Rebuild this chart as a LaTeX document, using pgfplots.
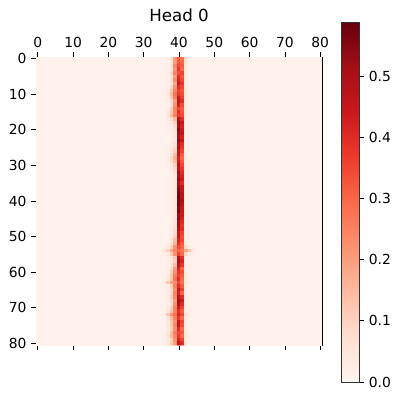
\documentclass[border=0pt]{standalone}
\usepackage{fontspec}
\setmainfont{DejaVu Sans}
\usepackage{pgfplots}
\pgfplotsset{compat=1.18}

\pgfplotsset{
  colormap={reds}{rgb255=(255,245,240) rgb255=(254,224,210) rgb255=(252,187,161)
    rgb255=(252,146,114) rgb255=(251,106,74) rgb255=(239,59,44)
    rgb255=(203,24,29) rgb255=(165,15,21) rgb255=(103,0,13)},
}

\begin{document}
\begin{tikzpicture}
\useasboundingbox (0,0) rectangle (299.25pt,299.25pt);
\begin{axis}[
  at={(27pt,40.5pt)}, anchor=south west,
  scale only axis, width=214.5pt, height=216pt,
  colormap name=reds,
  point meta min=0, point meta max=0.588,
  xmin=-0.5, xmax=80.5, ymin=-0.5, ymax=80.5,
  y dir=reverse,
  xtick={0,10,...,80}, ytick={0,10,...,80},
  xtick pos=both, xticklabel pos=upper,
  ytick pos=left,
  tick align=outside, major tick length=3.6pt,
  every tick/.style={black, line width=0.6pt},
  axis line style={line width=0.6pt},
  tick label style={font=\fontsize{10.4}{12}\selectfont},
  /pgf/number format/assume math mode=true,
  title={Head 0},
  title style={font=\fontsize{12.5}{14}\selectfont,
    at={(0.5,1)}, anchor=south, yshift=17pt},
  colorbar,
  colorbar style={
    at={(parent axis.south east)}, anchor=south west,
    xshift=6pt, yshift=-27.75pt,
    width=13.5pt, height=269.5pt,
    ytick={0,0.1,...,0.5},
    yticklabel pos=right, ytick pos=right,
    tick align=outside, major tick length=3.6pt,
    every tick/.style={black, line width=0.6pt},
    axis line style={line width=0.6pt, black!80},
    yticklabel style={font=\fontsize{10.4}{12}\selectfont,
      /pgf/number format/fixed, /pgf/number format/fixed zerofill,
      /pgf/number format/precision=1},
    /pgf/number format/assume math mode=true,
  },
]
% background (all near-zero cells)
\addplot[matrix plot*, mesh/cols=2, mesh/rows=2, point meta=explicit]
  coordinates {(0,0) [0.01] (80,0) [0.01] (0,80) [0.01] (80,80) [0.01]};
% attention strip, columns 36..44
\addplot[matrix plot*, mesh/cols=9, mesh/rows=81, point meta=explicit] coordinates {
(36,0)[.01] (37,0)[.02] (38,0)[.06] (39,0)[.22] (40,0)[.30] (41,0)[.28] (42,0)[.08] (43,0)[.02] (44,0)[.01]
(36,1)[.01] (37,1)[.02] (38,1)[.05] (39,1)[.20] (40,1)[.33] (41,1)[.30] (42,1)[.06] (43,1)[.02] (44,1)[.01]
(36,2)[.01] (37,2)[.02] (38,2)[.06] (39,2)[.24] (40,2)[.35] (41,2)[.32] (42,2)[.05] (43,2)[.01] (44,2)[.01]
(36,3)[.01] (37,3)[.02] (38,3)[.05] (39,3)[.22] (40,3)[.38] (41,3)[.30] (42,3)[.05] (43,3)[.01] (44,3)[.01]
(36,4)[.01] (37,4)[.03] (38,4)[.07] (39,4)[.25] (40,4)[.34] (41,4)[.36] (42,4)[.04] (43,4)[.01] (44,4)[.01]
(36,5)[.01] (37,5)[.02] (38,5)[.05] (39,5)[.20] (40,5)[.40] (41,5)[.33] (42,5)[.04] (43,5)[.01] (44,5)[.01]
(36,6)[.01] (37,6)[.02] (38,6)[.06] (39,6)[.23] (40,6)[.42] (41,6)[.35] (42,6)[.04] (43,6)[.01] (44,6)[.01]
(36,7)[.01] (37,7)[.02] (38,7)[.05] (39,7)[.18] (40,7)[.45] (41,7)[.38] (42,7)[.03] (43,7)[.01] (44,7)[.01]
(36,8)[.01] (37,8)[.03] (38,8)[.08] (39,8)[.22] (40,8)[.40] (41,8)[.35] (42,8)[.04] (43,8)[.01] (44,8)[.01]
(36,9)[.01] (37,9)[.04] (38,9)[.12] (39,9)[.25] (40,9)[.36] (41,9)[.33] (42,9)[.05] (43,9)[.01] (44,9)[.01]
(36,10)[.01] (37,10)[.05] (38,10)[.14] (39,10)[.28] (40,10)[.38] (41,10)[.34] (42,10)[.04] (43,10)[.01] (44,10)[.01]
(36,11)[.01] (37,11)[.04] (38,11)[.12] (39,11)[.26] (40,11)[.44] (41,11)[.36] (42,11)[.04] (43,11)[.01] (44,11)[.01]
(36,12)[.01] (37,12)[.03] (38,12)[.08] (39,12)[.20] (40,12)[.46] (41,12)[.40] (42,12)[.03] (43,12)[.01] (44,12)[.01]
(36,13)[.01] (37,13)[.02] (38,13)[.06] (39,13)[.22] (40,13)[.42] (41,13)[.34] (42,13)[.03] (43,13)[.01] (44,13)[.01]
(36,14)[.01] (37,14)[.03] (38,14)[.10] (39,14)[.25] (40,14)[.35] (41,14)[.32] (42,14)[.04] (43,14)[.01] (44,14)[.01]
(36,15)[.01] (37,15)[.04] (38,15)[.12] (39,15)[.24] (40,15)[.40] (41,15)[.33] (42,15)[.04] (43,15)[.01] (44,15)[.01]
(36,16)[.01] (37,16)[.05] (38,16)[.15] (39,16)[.25] (40,16)[.38] (41,16)[.35] (42,16)[.03] (43,16)[.01] (44,16)[.01]
(36,17)[.01] (37,17)[.03] (38,17)[.08] (39,17)[.15] (40,17)[.48] (41,17)[.40] (42,17)[.02] (43,17)[.01] (44,17)[.01]
(36,18)[.01] (37,18)[.02] (38,18)[.04] (39,18)[.10] (40,18)[.52] (41,18)[.45] (42,18)[.02] (43,18)[.01] (44,18)[.01]
(36,19)[.01] (37,19)[.02] (38,19)[.03] (39,19)[.08] (40,19)[.50] (41,19)[.42] (42,19)[.02] (43,19)[.01] (44,19)[.01]
(36,20)[.01] (37,20)[.02] (38,20)[.03] (39,20)[.06] (40,20)[.54] (41,20)[.44] (42,20)[.02] (43,20)[.01] (44,20)[.01]
(36,21)[.01] (37,21)[.01] (38,21)[.02] (39,21)[.05] (40,21)[.52] (41,21)[.46] (42,21)[.02] (43,21)[.01] (44,21)[.01]
(36,22)[.01] (37,22)[.01] (38,22)[.02] (39,22)[.05] (40,22)[.50] (41,22)[.42] (42,22)[.02] (43,22)[.01] (44,22)[.01]
(36,23)[.01] (37,23)[.01] (38,23)[.02] (39,23)[.04] (40,23)[.53] (41,23)[.45] (42,23)[.02] (43,23)[.01] (44,23)[.01]
(36,24)[.01] (37,24)[.01] (38,24)[.03] (39,24)[.06] (40,24)[.48] (41,24)[.40] (42,24)[.02] (43,24)[.01] (44,24)[.01]
(36,25)[.01] (37,25)[.02] (38,25)[.04] (39,25)[.08] (40,25)[.50] (41,25)[.38] (42,25)[.02] (43,25)[.01] (44,25)[.01]
(36,26)[.01] (37,26)[.02] (38,26)[.05] (39,26)[.10] (40,26)[.46] (41,26)[.36] (42,26)[.03] (43,26)[.01] (44,26)[.01]
(36,27)[.01] (37,27)[.02] (38,27)[.06] (39,27)[.14] (40,27)[.45] (41,27)[.32] (42,27)[.03] (43,27)[.01] (44,27)[.01]
(36,28)[.01] (37,28)[.03] (38,28)[.08] (39,28)[.16] (40,28)[.42] (41,28)[.30] (42,28)[.04] (43,28)[.01] (44,28)[.01]
(36,29)[.01] (37,29)[.02] (38,29)[.07] (39,29)[.14] (40,29)[.44] (41,29)[.32] (42,29)[.03] (43,29)[.01] (44,29)[.01]
(36,30)[.01] (37,30)[.02] (38,30)[.05] (39,30)[.10] (40,30)[.48] (41,30)[.35] (42,30)[.03] (43,30)[.01] (44,30)[.01]
(36,31)[.01] (37,31)[.02] (38,31)[.04] (39,31)[.08] (40,31)[.46] (41,31)[.38] (42,31)[.02] (43,31)[.01] (44,31)[.01]
(36,32)[.01] (37,32)[.01] (38,32)[.03] (39,32)[.06] (40,32)[.52] (41,32)[.40] (42,32)[.02] (43,32)[.01] (44,32)[.01]
(36,33)[.01] (37,33)[.01] (38,33)[.02] (39,33)[.05] (40,33)[.50] (41,33)[.42] (42,33)[.02] (43,33)[.01] (44,33)[.01]
(36,34)[.01] (37,34)[.01] (38,34)[.02] (39,34)[.04] (40,34)[.53] (41,34)[.44] (42,34)[.02] (43,34)[.01] (44,34)[.01]
(36,35)[.01] (37,35)[.01] (38,35)[.02] (39,35)[.04] (40,35)[.50] (41,35)[.40] (42,35)[.02] (43,35)[.01] (44,35)[.01]
(36,36)[.01] (37,36)[.01] (38,36)[.02] (39,36)[.05] (40,36)[.52] (41,36)[.45] (42,36)[.02] (43,36)[.01] (44,36)[.01]
(36,37)[.01] (37,37)[.01] (38,37)[.02] (39,37)[.04] (40,37)[.55] (41,37)[.46] (42,37)[.02] (43,37)[.01] (44,37)[.01]
(36,38)[.01] (37,38)[.01] (38,38)[.02] (39,38)[.04] (40,38)[.56] (41,38)[.48] (42,38)[.02] (43,38)[.01] (44,38)[.01]
(36,39)[.01] (37,39)[.01] (38,39)[.02] (39,39)[.04] (40,39)[.58] (41,39)[.47] (42,39)[.02] (43,39)[.01] (44,39)[.01]
(36,40)[.01] (37,40)[.01] (38,40)[.02] (39,40)[.04] (40,40)[.56] (41,40)[.50] (42,40)[.02] (43,40)[.01] (44,40)[.01]
(36,41)[.01] (37,41)[.01] (38,41)[.02] (39,41)[.04] (40,41)[.57] (41,41)[.48] (42,41)[.02] (43,41)[.01] (44,41)[.01]
(36,42)[.01] (37,42)[.01] (38,42)[.02] (39,42)[.04] (40,42)[.55] (41,42)[.46] (42,42)[.02] (43,42)[.01] (44,42)[.01]
(36,43)[.01] (37,43)[.01] (38,43)[.02] (39,43)[.04] (40,43)[.56] (41,43)[.45] (42,43)[.02] (43,43)[.01] (44,43)[.01]
(36,44)[.01] (37,44)[.01] (38,44)[.02] (39,44)[.05] (40,44)[.52] (41,44)[.44] (42,44)[.02] (43,44)[.01] (44,44)[.01]
(36,45)[.01] (37,45)[.01] (38,45)[.02] (39,45)[.05] (40,45)[.54] (41,45)[.42] (42,45)[.02] (43,45)[.01] (44,45)[.01]
(36,46)[.01] (37,46)[.01] (38,46)[.02] (39,46)[.05] (40,46)[.50] (41,46)[.40] (42,46)[.02] (43,46)[.01] (44,46)[.01]
(36,47)[.01] (37,47)[.01] (38,47)[.02] (39,47)[.06] (40,47)[.52] (41,47)[.38] (42,47)[.02] (43,47)[.01] (44,47)[.01]
(36,48)[.01] (37,48)[.01] (38,48)[.03] (39,48)[.07] (40,48)[.48] (41,48)[.40] (42,48)[.02] (43,48)[.01] (44,48)[.01]
(36,49)[.01] (37,49)[.01] (38,49)[.03] (39,49)[.08] (40,49)[.45] (41,49)[.36] (42,49)[.02] (43,49)[.01] (44,49)[.01]
(36,50)[.01] (37,50)[.01] (38,50)[.03] (39,50)[.10] (40,50)[.46] (41,50)[.34] (42,50)[.02] (43,50)[.01] (44,50)[.01]
(36,51)[.01] (37,51)[.02] (38,51)[.05] (39,51)[.14] (40,51)[.42] (41,51)[.35] (42,51)[.03] (43,51)[.01] (44,51)[.01]
(36,52)[.01] (37,52)[.02] (38,52)[.06] (39,52)[.16] (40,52)[.40] (41,52)[.32] (42,52)[.04] (43,52)[.01] (44,52)[.01]
(36,53)[.02] (37,53)[.04] (38,53)[.10] (39,53)[.22] (40,53)[.35] (41,53)[.30] (42,53)[.08] (43,53)[.03] (44,53)[.01]
(36,54)[.04] (37,54)[.10] (38,54)[.18] (39,54)[.25] (40,54)[.30] (41,54)[.28] (42,54)[.18] (43,54)[.12] (44,54)[.04]
(36,55)[.02] (37,55)[.05] (38,55)[.12] (39,55)[.22] (40,55)[.36] (41,55)[.30] (42,55)[.08] (43,55)[.04] (44,55)[.02]
(36,56)[.01] (37,56)[.02] (38,56)[.05] (39,56)[.12] (40,56)[.48] (41,56)[.40] (42,56)[.03] (43,56)[.01] (44,56)[.01]
(36,57)[.01] (37,57)[.02] (38,57)[.04] (39,57)[.10] (40,57)[.50] (41,57)[.42] (42,57)[.02] (43,57)[.01] (44,57)[.01]
(36,58)[.01] (37,58)[.02] (38,58)[.06] (39,58)[.14] (40,58)[.46] (41,58)[.38] (42,58)[.02] (43,58)[.01] (44,58)[.01]
(36,59)[.01] (37,59)[.03] (38,59)[.08] (39,59)[.20] (40,59)[.42] (41,59)[.30] (42,59)[.03] (43,59)[.01] (44,59)[.01]
(36,60)[.01] (37,60)[.03] (38,60)[.10] (39,60)[.22] (40,60)[.38] (41,60)[.34] (42,60)[.03] (43,60)[.01] (44,60)[.01]
(36,61)[.01] (37,61)[.04] (38,61)[.12] (39,61)[.25] (40,61)[.36] (41,61)[.32] (42,61)[.04] (43,61)[.01] (44,61)[.01]
(36,62)[.01] (37,62)[.05] (38,62)[.12] (39,62)[.28] (40,62)[.40] (41,62)[.30] (42,62)[.04] (43,62)[.01] (44,62)[.01]
(36,63)[.02] (37,63)[.12] (38,63)[.20] (39,63)[.22] (40,63)[.35] (41,63)[.28] (42,63)[.05] (43,63)[.02] (44,63)[.01]
(36,64)[.01] (37,64)[.04] (38,64)[.10] (39,64)[.25] (40,64)[.40] (41,64)[.32] (42,64)[.04] (43,64)[.01] (44,64)[.01]
(36,65)[.01] (37,65)[.03] (38,65)[.08] (39,65)[.22] (40,65)[.45] (41,65)[.36] (42,65)[.03] (43,65)[.01] (44,65)[.01]
(36,66)[.01] (37,66)[.03] (38,66)[.08] (39,66)[.25] (40,66)[.42] (41,66)[.30] (42,66)[.03] (43,66)[.01] (44,66)[.01]
(36,67)[.01] (37,67)[.04] (38,67)[.10] (39,67)[.24] (40,67)[.48] (41,67)[.40] (42,67)[.03] (43,67)[.01] (44,67)[.01]
(36,68)[.01] (37,68)[.03] (38,68)[.08] (39,68)[.20] (40,68)[.52] (41,68)[.44] (42,68)[.02] (43,68)[.01] (44,68)[.01]
(36,69)[.01] (37,69)[.03] (38,69)[.07] (39,69)[.22] (40,69)[.50] (41,69)[.40] (42,69)[.02] (43,69)[.01] (44,69)[.01]
(36,70)[.01] (37,70)[.04] (38,70)[.10] (39,70)[.25] (40,70)[.44] (41,70)[.36] (42,70)[.03] (43,70)[.01] (44,70)[.01]
(36,71)[.01] (37,71)[.05] (38,71)[.12] (39,71)[.25] (40,71)[.40] (41,71)[.32] (42,71)[.03] (43,71)[.01] (44,71)[.01]
(36,72)[.02] (37,72)[.12] (38,72)[.22] (39,72)[.28] (40,72)[.42] (41,72)[.35] (42,72)[.06] (43,72)[.02] (44,72)[.01]
(36,73)[.01] (37,73)[.06] (38,73)[.14] (39,73)[.25] (40,73)[.38] (41,73)[.30] (42,73)[.04] (43,73)[.01] (44,73)[.01]
(36,74)[.01] (37,74)[.04] (38,74)[.12] (39,74)[.22] (40,74)[.44] (41,74)[.36] (42,74)[.03] (43,74)[.01] (44,74)[.01]
(36,75)[.01] (37,75)[.05] (38,75)[.12] (39,75)[.24] (40,75)[.46] (41,75)[.34] (42,75)[.03] (43,75)[.01] (44,75)[.01]
(36,76)[.01] (37,76)[.04] (38,76)[.10] (39,76)[.22] (40,76)[.40] (41,76)[.30] (42,76)[.04] (43,76)[.01] (44,76)[.01]
(36,77)[.01] (37,77)[.05] (38,77)[.14] (39,77)[.26] (40,77)[.36] (41,77)[.32] (42,77)[.05] (43,77)[.01] (44,77)[.01]
(36,78)[.01] (37,78)[.06] (38,78)[.15] (39,78)[.24] (40,78)[.38] (41,78)[.30] (42,78)[.05] (43,78)[.02] (44,78)[.01]
(36,79)[.01] (37,79)[.04] (38,79)[.10] (39,79)[.22] (40,79)[.42] (41,79)[.35] (42,79)[.04] (43,79)[.01] (44,79)[.01]
(36,80)[.01] (37,80)[.05] (38,80)[.12] (39,80)[.20] (40,80)[.46] (41,80)[.40] (42,80)[.05] (43,80)[.01] (44,80)[.01]
};
\end{axis}
\end{tikzpicture}
\end{document}
